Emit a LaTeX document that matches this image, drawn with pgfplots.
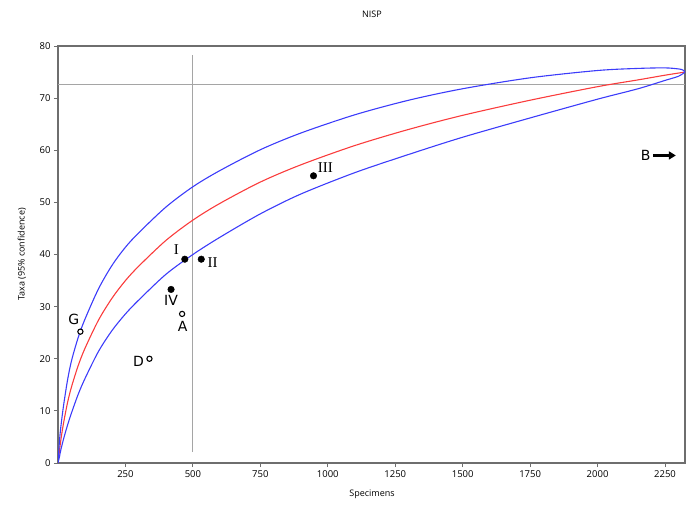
\documentclass[border=0pt]{standalone}
\usepackage{fontspec}
\setmainfont{Open Sans}
\newfontfamily\ptsans{DejaVu Sans}
\newfontfamily\ptserif{Liberation Serif}
\usepackage{pgfplots}
\pgfplotsset{compat=1.18}
\usetikzlibrary{arrows.meta}
\definecolor{curveblue}{RGB}{60,60,250}
\definecolor{curvered}{RGB}{250,60,60}
\definecolor{framegray}{RGB}{110,110,110}
\definecolor{guide}{RGB}{165,165,165}

\begin{document}
\begin{tikzpicture}
\useasboundingbox (-58pt,-45pt) rectangle (642pt,463pt);
\begin{axis}[
  scale only axis, width=627pt, height=417pt,
  xmin=0, xmax=2324, ymin=0, ymax=80,
  xtick={250,500,...,2250}, ytick={0,10,...,80},
  xtick pos=bottom, ytick pos=left, tick align=outside,
  major tick length=4pt,
  axis line style={framegray, line width=1.2pt},
  every tick/.style={framegray, line width=0.8pt},
  tick label style={font=\fontsize{9.5}{10}\selectfont},
  /pgf/number format/assume math mode=true,
  /pgf/number format/1000 sep={},
]
% reference lines
\addplot[guide, line width=0.9pt] coordinates {(0,72.7) (2324,72.7)};
\addplot[guide, line width=0.9pt] coordinates {(500,2.1) (500,78.3)};

% rarefaction curve
\addplot[curvered, line width=1.1pt, smooth] coordinates {
  (0,0) (5,2.1) (10,4.2) (20,7.5) (35,11.5) (50,14.6) (75,18.7) (100,22.0)
  (150,27.4) (200,31.6) (250,35.0) (300,37.8) (400,42.7) (500,46.6)
  (600,49.8) (750,53.9) (900,57.2) (1100,60.9) (1300,64.0) (1500,66.7)
  (1750,69.6) (2000,72.2) (2150,73.5) (2250,74.4) (2324,75.0)};
% upper 95% bound
\addplot[curveblue, line width=1.1pt, smooth] coordinates {
  (0,0) (5,3.9) (10,6.7) (20,10.8) (35,15.8) (50,19.6) (75,24.1) (100,27.6)
  (150,33.4) (200,37.9) (250,41.4) (300,44.2) (400,49.1) (500,53.0)
  (600,56.1) (750,60.1) (900,63.3) (1100,66.8) (1300,69.6) (1500,71.8)
  (1750,73.9) (2000,75.3) (2150,75.7) (2250,75.8) (2300,75.6) (2316,75.4)
  (2324,75.0)};
% lower 95% bound
\addplot[curveblue, line width=1.1pt, smooth] coordinates {
  (0,0) (5,1.1) (10,2.4) (20,4.5) (35,7.2) (50,9.6) (75,13.2) (100,16.2)
  (150,21.4) (200,25.4) (250,28.6) (300,31.3) (400,36.2) (500,40.0)
  (600,43.3) (750,47.8) (900,51.6) (1100,55.7) (1300,59.2) (1500,62.5)
  (1750,66.2) (2000,69.8) (2150,71.8) (2250,73.4) (2300,74.2) (2324,75.0)};

% assemblages
\addplot[only marks, mark=*, mark size=3.3pt, black] coordinates {
  (470,39.1) (531,39.1) (419,33.3) (947,55.1)};
\addplot[only marks, mark=*, mark size=2.6pt, mark options={draw=black, fill=white, line width=1.1pt}] coordinates {
  (460,28.6) (339,20.0) (83,25.2)};
\addplot[black, line width=3.5pt, -{Triangle[length=7pt,width=8pt]}] coordinates {(2207,59) (2290,59)};

\node[font=\ptserif\fontsize{15}{15}\selectfont] at (439,40.9) {I};
\node[font=\ptserif\fontsize{15}{15}\selectfont] at (573,38.4) {II};
\node[font=\ptserif\fontsize{15}{15}\selectfont] at (991,56.7) {III};
\node[font=\ptsans\fontsize{14}{14}\selectfont] at (419,31.1) {IV};
\node[font=\ptsans\fontsize{14}{14}\selectfont] at (462,26.3) {A};
\node[font=\ptsans\fontsize{14}{14}\selectfont] at (298,19.4) {D};
\node[font=\ptsans\fontsize{14}{14}\selectfont] at (59,27.6) {G};
\node[font=\ptsans\fontsize{14}{14}\selectfont] at (2178,59.0) {B};
\end{axis}
\node[font=\fontsize{9}{10}\selectfont] at (314pt,449pt) {NISP};
\node[font=\fontsize{9}{10}\selectfont] at (314pt,-31pt) {Specimens};
\node[font=\fontsize{9}{10}\selectfont, rotate=90] at (-36pt,208.5pt) {Taxa (95\% confidence)};
\end{tikzpicture}
\end{document}
